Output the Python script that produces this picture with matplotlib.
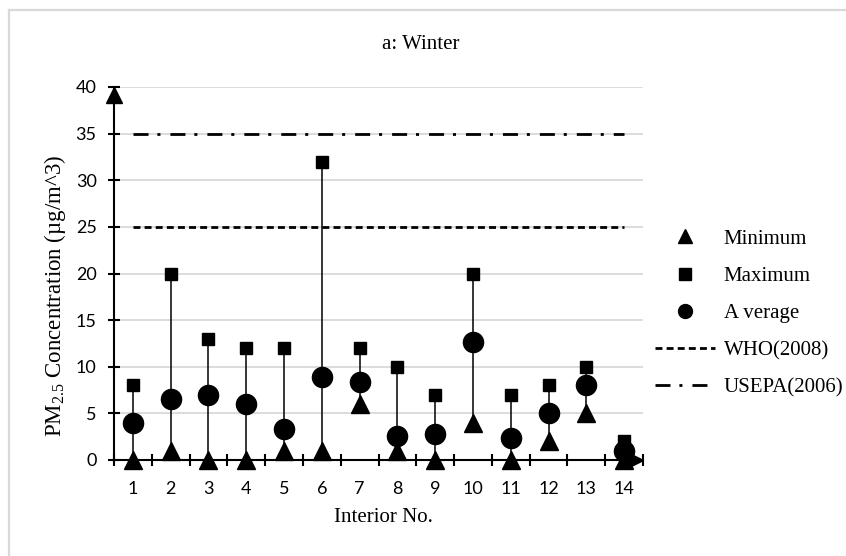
import numpy as np
import matplotlib
matplotlib.use('Agg')
import matplotlib.pyplot as plt
from matplotlib.lines import Line2D
from matplotlib.transforms import ScaledTranslation

# Dados
interiores = list(range(1, 15))
minimo = [0, 1, 0, 0, 1, 1, 6, 1, 0, 4, 0, 2, 5, 0]
maximo = [8, 20, 13, 12, 12, 32, 12, 10, 7, 20, 7, 8, 10, 2]
media = [4, 6.5, 7, 6, 3.3, 8.9, 8.4, 2.6, 2.8, 12.7, 2.4, 5, 8, 1]
who_2008 = 25
usepa_2006 = 35

plt.rcParams['font.family'] = 'Liberation Serif'
plt.rcParams['mathtext.fontset'] = 'custom'
plt.rcParams['mathtext.rm'] = 'Liberation Serif'

W, H = 846, 556
fig = plt.figure(figsize=(W / 100, H / 100), dpi=100)
ax = fig.add_axes([114 / W, 96 / H, 529 / W, 373 / H])

# borda cinza da área do gráfico (só esquerda e topo aparecem)
fig.add_artist(Line2D([9 / W, 9 / W], [0, 1 - 10 / H], color='#d9d9d9', lw=1.6))
fig.add_artist(Line2D([9 / W, 1], [1 - 10 / H, 1 - 10 / H], color='#d9d9d9', lw=1.6))

# linhas verticais min-max
ax.vlines(interiores, minimo, maximo, color='black', lw=1.1, zorder=3)

ax.plot(interiores, minimo, '^', color='black', ms=12.5, zorder=4, clip_on=False)
ax.plot(interiores, maximo, 's', color='black', ms=9, zorder=4, clip_on=False)
ax.plot(interiores, media, 'o', color='black', ms=14.5, zorder=5, clip_on=False)

x_lim = [interiores[0], interiores[-1]]
ax.plot(x_lim, [who_2008] * 2, color='black', lw=2, dashes=(2.5, 1.5), zorder=2)
ax.plot(x_lim, [usepa_2006] * 2, color='black', lw=2, dashes=(5.4, 3.2, 1.1, 3.6), zorder=2)

ax.set_xlim(0.5, 14.5)
ax.set_ylim(0, 40)

for s in ['top', 'right']:
    ax.spines[s].set_visible(False)
for s in ['left', 'bottom']:
    ax.spines[s].set_linewidth(1.5)
    ax.spines[s].set_zorder(6)

ax.set_yticks(np.arange(0, 41, 5))
ax.yaxis.grid(True, color='#d9d9d9', lw=1.3)
ax.set_axisbelow(True)
ax.tick_params(axis='y', direction='inout', length=9, width=1.5, pad=8,
               labelsize=13, labelfontfamily='Lato')

ax.set_xticks(np.arange(0.5, 14.6, 1))
ax.set_xticklabels([])
ax.set_xticks(interiores, minor=True)
ax.set_xticklabels([str(i) for i in interiores], minor=True)
ax.tick_params(axis='x', which='major', direction='inout', length=9, width=1.5)
ax.tick_params(axis='x', which='minor', length=0, pad=15,
               labelsize=13, labelfontfamily='Lato')

# setas nas extremidades dos eixos
off_up = ScaledTranslation(0, -6 / 72, fig.dpi_scale_trans)
ax.plot(0, 1, '^', color='black', ms=12, transform=ax.transAxes + off_up,
        clip_on=False, zorder=7)
off_right = ScaledTranslation(-6 / 72, 0, fig.dpi_scale_trans)
ax.plot(1, 0, '>', color='black', ms=12, transform=ax.transAxes + off_right,
        clip_on=False, zorder=7)

fig.text(421 / W, 1 - 45 / H, 'a: Winter', ha='center', va='center', fontsize=15)
fig.text(383 / W, 1 - 518 / H, 'Interior No.', ha='center', va='center', fontsize=15)
fig.text(55 / W, 1 - 296 / H, r'PM$_{\mathregular{2.5}}$ Concentration (µg/m^3)',
         ha='center', va='center', rotation=90, fontsize=16.5)

handles = [
    Line2D([], [], ls='none', marker='^', color='black', ms=10),
    Line2D([], [], ls='none', marker='s', color='black', ms=9),
    Line2D([], [], ls='none', marker='o', color='black', ms=10),
    Line2D([], [], color='black', lw=2, dashes=(2.5, 1.5)),
    Line2D([], [], color='black', lw=2, dashes=(5.4, 3.2, 1.1, 3.6)),
]
labels = ['Minimum', 'Maximum', 'A verage', 'WHO(2008)', 'USEPA(2006)']
fig.legend(handles, labels, loc='upper left', bbox_to_anchor=(655 / W, 1 - 229 / H),
           frameon=False, fontsize=15, handlelength=2.9, handletextpad=0.4,
           labelspacing=0.85, borderpad=0, borderaxespad=0)

fig.savefig('out.png', dpi=100)
